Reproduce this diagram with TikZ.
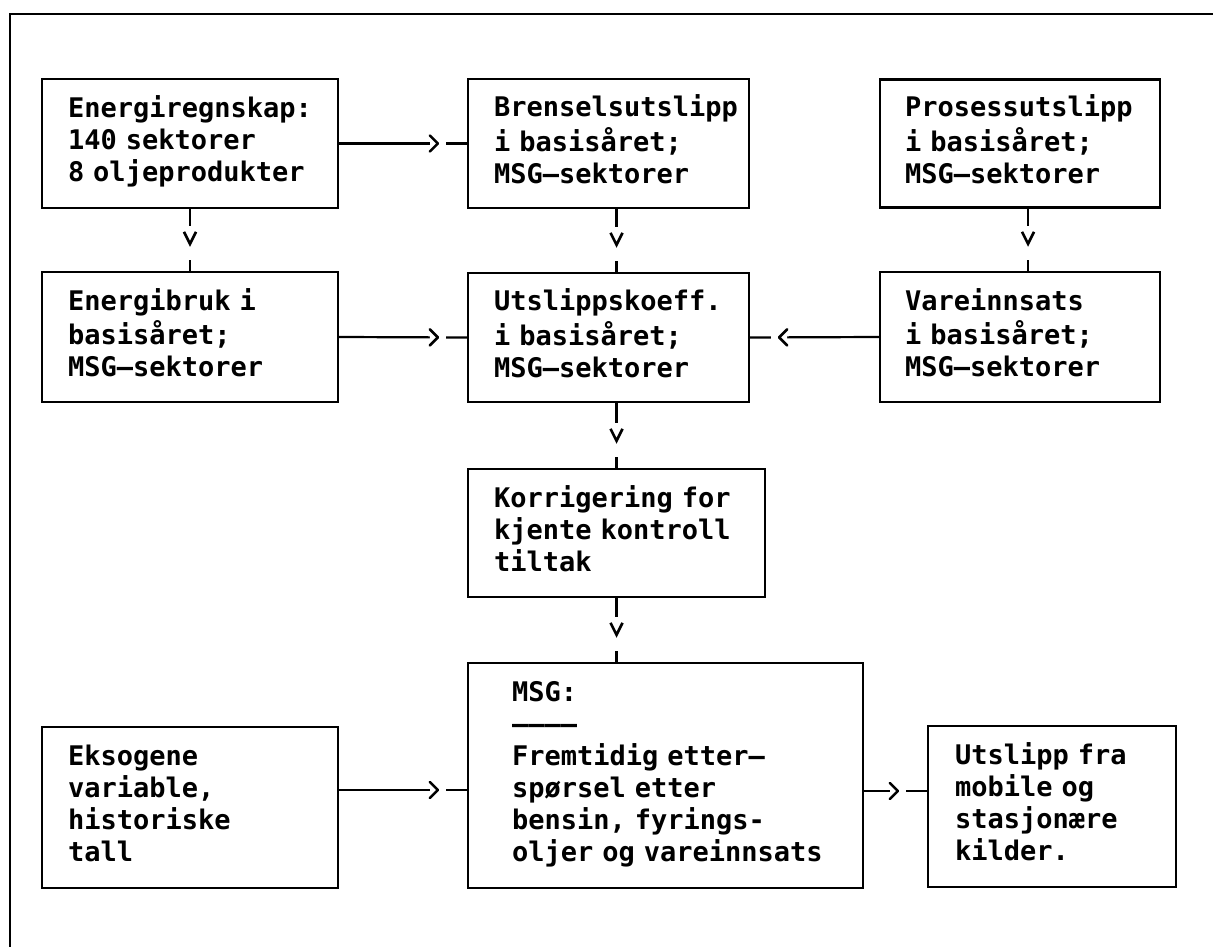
\documentclass[tikz,border=0pt]{standalone}
\usepackage{fontspec}
\newfontfamily\typefont[WordSpace={1,0,0}]{DejaVu Sans Mono}
\usetikzlibrary{decorations.markings}
\begin{document}
\begin{tikzpicture}[x=1pt,y=-1pt,
  box/.style={draw, line width=2.3pt, rectangle, inner ysep=0pt, align=left,
    font=\typefont\bfseries\fontsize{27}{32}\selectfont,
    execute at begin node={\hyphenpenalty=10000\strut}, execute at end node=\strut},
  conn/.style={line width=2.2pt},
  hconn/.style={conn, postaction={decorate}, decoration={markings,
    mark=at position -33pt with {\fill[white] (-4,-5) rectangle (12,5);
      \draw[line width=2.6pt, line join=round, line cap=round] (-4,-8) -- (4,0) -- (-4,8);}}},
  vconn/.style={conn, postaction={decorate}, decoration={markings,
    mark=at position -33pt with {\fill[white] (-12,-5) rectangle (22,5);
      \draw[line width=2.6pt, line join=miter] (-6,-6) -- (6,0) -- (-6,6);}}},
]
\useasboundingbox (0,0) rectangle (1213,947);
% outer frame
\draw[line width=2.2pt] (1213,14) -- (10,14) -- (10,947);

\node[box, minimum width=296pt, minimum height=129pt, text width=244pt, inner xsep=26pt] (n1) at (190,143.5)
  {Energiregnskap:\\140 sektorer\\8 oljeprodukter};
\node[box, minimum width=281pt, minimum height=129pt, text width=229pt, inner xsep=26pt] (n2) at (608.5,143.5)
  {Brenselsutslipp\\i basisåret;\\MSG–sektorer};
\node[box, minimum width=280pt, minimum height=128pt, text width=230pt, inner xsep=25pt] (n3) at (1020,143.5)
  {Prosessutslipp\\i basisåret;\\MSG–sektorer};
\node[box, minimum width=296pt, minimum height=130pt, text width=244pt, inner xsep=26pt] (n4) at (190,337)
  {Energibruk i\\basisåret;\\MSG–sektorer};
\node[box, minimum width=281pt, minimum height=129pt, text width=229pt, inner xsep=26pt] (n5) at (608.5,337.5)
  {Utslippskoeff.\\i basisåret;\\MSG–sektorer};
\node[box, minimum width=280pt, minimum height=130pt, text width=230pt, inner xsep=25pt] (n6) at (1020,337)
  {Vareinnsats\\i basisåret;\\MSG–sektorer};
\node[box, minimum width=297pt, minimum height=128pt, text width=245pt, inner xsep=26pt] (n7) at (616.5,533)
  {Korrigering~for\\kjente~kontroll\\tiltak};
\node[box, minimum width=395pt, minimum height=225pt, text width=307pt, inner xsep=44pt] (n8) at (665.5,775.5)
  {MSG:\\––––\\Fremtidig~etter–\\spørsel~etter\\bensin,~fyrings-\\oljer~og~vareinnsats};
\node[box, minimum width=296pt, minimum height=161pt, text width=244pt, inner xsep=26pt] (n9) at (190,807.5)
  {Eksogene\\variable,\\historiske\\tall};
\node[box, minimum width=248pt, minimum height=161pt, text width=194pt, inner xsep=27pt] (n10) at (1052,806.5)
  {Utslipp~fra\\mobile~og\\stasjonære\\kilder.};

% horizontal connectors
\draw[hconn] (n1.east) -- (n2.west);
\draw[hconn] (n4.east) -- (n5.west);
\draw[hconn] (n6.west) -- (n5.east);
\draw[hconn] ([yshift=17.5pt]n9.east) -- ([yshift=17.5pt]n9.east -| n8.west);
\draw[hconn] ([yshift=15.5pt]n10.west -| n8.east) -- ([yshift=15.5pt]n10.west);
% vertical connectors
\draw[vconn] (n1.south) -- (n4.north);
\draw[vconn] (n2.south -| n7.north) -- (n5.north -| n7.north);
\draw[vconn] (n5.south -| n7.north) -- (n7.north);
\draw[vconn] (n7.south) -- (n7.south |- n8.north);
\draw[vconn] ([xshift=8pt]n3.south) -- ([xshift=8pt]n6.north);
\end{tikzpicture}
\end{document}
